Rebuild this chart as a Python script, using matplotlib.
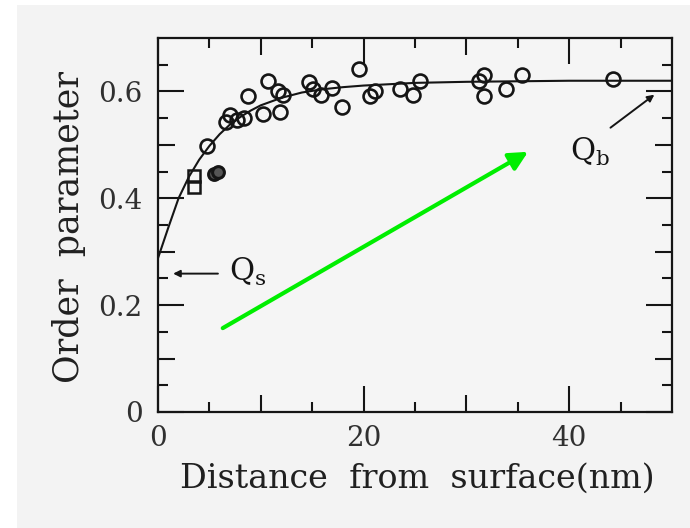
import matplotlib
matplotlib.use("Agg")
import matplotlib.pyplot as plt
from matplotlib.ticker import FixedLocator, FixedFormatter
from matplotlib.patches import Rectangle

# Measured points (distance in nm, order parameter)
dist_circles = [4.8, 6.65, 7.0, 7.7, 8.4, 8.8, 10.2, 10.7, 11.7, 12.2, 11.9,
                14.7, 15.1, 15.9, 16.9, 17.9, 19.6, 20.6, 21.1, 23.5, 24.8,
                25.5, 31.2, 31.7, 31.7, 33.9, 35.4, 44.3]
order_circles = [0.497, 0.542, 0.555, 0.547, 0.550, 0.591, 0.558, 0.620, 0.600,
                 0.594, 0.562, 0.617, 0.604, 0.594, 0.607, 0.571, 0.642, 0.591,
                 0.600, 0.604, 0.594, 0.620, 0.620, 0.630, 0.591, 0.604, 0.630,
                 0.623]
dist_squares = [3.5, 3.5]
order_squares = [0.441, 0.422]
dist_dark = [5.4, 5.8]
order_dark = [0.446, 0.450]

# Fitted curve
dist_fit = [0, 1, 2, 3, 4, 5, 6, 7, 8, 9, 10, 12, 14, 16, 18, 20, 25, 30, 35,
            40, 45, 50]
order_fit = [0.288, 0.345, 0.400, 0.440, 0.472, 0.498, 0.520, 0.538, 0.552,
             0.564, 0.574, 0.588, 0.598, 0.604, 0.608, 0.611, 0.616, 0.618,
             0.619, 0.620, 0.620, 0.620]

x_major = [0, 20, 40]
x_labels = ["0", "20", "40"]
x_mid = [10, 30]
x_minor = [5, 15, 25, 35, 45]
y_major = [0, 0.2, 0.4, 0.6]
y_labels = ["0", "0.2", "0.4", "0.6"]
y_mid = [0.1, 0.3, 0.5]
y_minor = [0.05, 0.15, 0.25, 0.35, 0.45, 0.55, 0.65]

plt.rcParams["font.family"] = "DejaVu Serif"
plt.rcParams["mathtext.fontset"] = "dejavuserif"

ink = "#151515"
fig = plt.figure(figsize=(6.9, 5.28), dpi=100, facecolor="#f3f3f3")
# white strips of the scan border
fig.patches.append(Rectangle((0, 0), 17 / 690, 1, transform=fig.transFigure,
                             facecolor="white", edgecolor="none", zorder=-1))
fig.patches.append(Rectangle((0, 1 - 5 / 528), 1, 5 / 528, transform=fig.transFigure,
                             facecolor="white", edgecolor="none", zorder=-1))

ax = fig.add_axes([158 / 690, 1 - 412 / 528, 514 / 690, 374 / 528])
ax.set_facecolor("#f5f5f5")
ax.set_xlim(0, 50)
ax.set_ylim(0, 0.7)

ax.plot(dist_fit, order_fit, color=ink, lw=1.5, zorder=2)
ax.plot(dist_circles, order_circles, "o", ms=10, mfc="none", mec=ink, mew=1.9, zorder=3)
ax.plot(dist_squares, order_squares, "s", ms=9, mfc="none", mec=ink, mew=1.8, zorder=3)
ax.plot(dist_dark, order_dark, "o", ms=8.5, mfc="#555555", mec=ink, mew=2.2, zorder=3)

# ticks on all four sides, pointing in
ax.xaxis.set_major_locator(FixedLocator(x_major))
ax.xaxis.set_major_formatter(FixedFormatter(x_labels))
ax.xaxis.set_minor_locator(FixedLocator(x_minor))
ax.yaxis.set_major_locator(FixedLocator(y_major))
ax.yaxis.set_major_formatter(FixedFormatter(y_labels))
ax.yaxis.set_minor_locator(FixedLocator(y_minor))
ax.tick_params(which="both", direction="in", top=True, right=True, color=ink)
ax.tick_params(which="major", length=19, width=1.5, labelsize=20,
               labelcolor="#303030")
ax.tick_params(axis="x", which="major", pad=9)
ax.tick_params(axis="y", which="major", pad=11)
ax.tick_params(which="minor", length=7, width=1.5)

# medium-length ticks
xt = ax.get_xaxis_transform()
yt = ax.get_yaxis_transform()
ax.vlines(x_mid, 0, 17 / 374, transform=xt, color=ink, lw=1.5)
ax.vlines(x_mid, 1 - 17 / 374, 1, transform=xt, color=ink, lw=1.5)
ax.hlines(y_mid, 0, 17 / 514, transform=yt, color=ink, lw=1.5)
ax.hlines(y_mid, 1 - 17 / 514, 1, transform=yt, color=ink, lw=1.5)

for s in ax.spines.values():
    s.set_linewidth(1.6)
    s.set_color(ink)

ax.set_xlabel("Distance  from  surface(nm)", fontsize=24, color="#202020")
ax.xaxis.set_label_coords(0.505, -0.135)
ax.set_ylabel("Order  parameter", fontsize=25, color="#202020")
ax.yaxis.set_label_coords(-0.14, 0.495)

# Q_s and Q_b annotations
ax.annotate("", xy=(1.2, 0.259), xytext=(6.1, 0.259),
            arrowprops=dict(arrowstyle="-|>", color=ink, lw=1.4, mutation_scale=10))
ax.text(6.9, 0.262, r"$\mathrm{Q_s}$", fontsize=22, color=ink, va="center", ha="left")
ax.annotate("", xy=(48.5, 0.597), xytext=(43.8, 0.529),
            arrowprops=dict(arrowstyle="-|>", color=ink, lw=1.4, mutation_scale=10))
ax.text(42.0, 0.486, r"$\mathrm{Q_b}$", fontsize=22, color=ink, va="center", ha="center")

# green arrow
ax.annotate("", xy=(36.0, 0.487), xytext=(6.3, 0.157),
            arrowprops=dict(arrowstyle="-|>,head_length=0.8,head_width=0.4",
                            color="#00ee00", lw=3, mutation_scale=14,
                            shrinkA=0, shrinkB=0))

fig.savefig("out.png", dpi=100, facecolor=fig.get_facecolor())
